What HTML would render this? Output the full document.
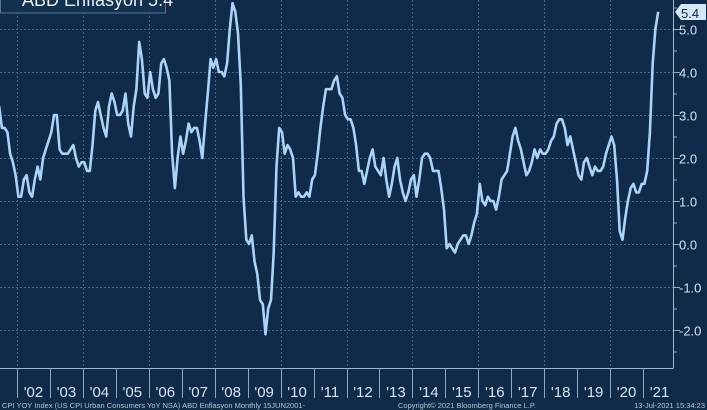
<!DOCTYPE html>
<html><head><meta charset="utf-8"><style>
html,body{margin:0;padding:0;background:#102a4a;}
body{width:707px;height:410px;overflow:hidden;position:relative;font-family:"Liberation Sans",sans-serif;}
svg{position:absolute;left:0;top:0;}
</style></head><body>
<svg width="707" height="410" xmlns="http://www.w3.org/2000/svg">
<rect width="707" height="410" fill="#102a4a"/>
<g id="grid" stroke="#4a6380" stroke-width="1" stroke-dasharray="2,2"></g>
<g id="ticks" stroke="#8fa6c0" stroke-width="1"></g>
<line x1="673.5" y1="0" x2="673.5" y2="368" stroke="#9fb6cf" stroke-width="1"/>
<line x1="0" y1="368.5" x2="673.5" y2="368.5" stroke="#9fb6cf" stroke-width="1"/>
<g id="ylab" fill="#d8e4f0" font-size="13" font-family="Liberation Sans, sans-serif"></g>
<g id="xlab" fill="#d8e4f0" font-size="15" font-family="Liberation Sans, sans-serif" text-anchor="middle"></g>
<polyline id="line" fill="none" stroke="#a9d3f7" stroke-width="2.6" stroke-linejoin="round"/>
<rect x="0.5" y="-12" width="165" height="25" fill="#12304f" stroke="#5a7390"/>
<text x="22" y="6" fill="#e8eef5" font-size="18">ABD Enflasyon 5.4</text>
<polygon points="675,12 681,4 706,4 706,20 681,20" fill="#d5e6f5"/>
<text x="681" y="18" fill="#102a4a" font-size="13">5.4</text>
<text x="2" y="408" fill="#b7c3d0" font-size="7.5">CPI YOY Index (US CPI Urban Consumers YoY NSA) ABD Enflasyon  Monthly 15JUN2001-</text>
<text x="398" y="408" fill="#b7c3d0" font-size="7.5">Copyright© 2021 Bloomberg Finance L.P.</text>
<text x="705" y="408" fill="#b7c3d0" font-size="7.5" text-anchor="end">13-Jul-2021 15:34:23</text>
</svg>
<script>
var d=[3.2,2.7,2.7,2.6,2.1,1.9,1.6,
1.1,1.1,1.5,1.6,1.2,1.1,1.5,1.8,1.5,2.0,2.2,2.4,
2.6,3.0,3.0,2.2,2.1,2.1,2.1,2.2,2.3,2.0,1.8,1.9,
1.9,1.7,1.7,2.3,3.1,3.3,3.0,2.7,2.5,3.2,3.5,3.3,
3.0,3.0,3.1,3.5,2.8,2.5,3.2,3.6,4.7,4.3,3.5,3.4,
4.0,3.6,3.4,3.5,4.2,4.3,4.1,3.8,2.1,1.3,2.0,2.5,
2.1,2.4,2.8,2.6,2.7,2.7,2.4,2.0,2.8,3.5,4.3,4.1,
4.3,4.0,4.0,3.9,4.2,5.0,5.6,5.4,4.9,3.7,1.1,0.1,
0.0,0.2,-0.4,-0.7,-1.3,-1.4,-2.1,-1.5,-1.3,-0.2,1.8,2.7,
2.6,2.1,2.3,2.2,2.0,1.1,1.2,1.1,1.1,1.2,1.1,1.5,
1.6,2.1,2.7,3.2,3.6,3.6,3.6,3.8,3.9,3.5,3.4,3.0,
2.9,2.9,2.7,2.3,1.7,1.7,1.4,1.7,2.0,2.2,1.8,1.7,
1.6,2.0,1.5,1.1,1.4,1.8,2.0,1.5,1.2,1.0,1.2,1.5,
1.6,1.1,1.5,2.0,2.1,2.1,2.0,1.7,1.7,1.7,1.3,0.8,
-0.1,0.0,-0.1,-0.2,0.0,0.1,0.2,0.2,0.0,0.2,0.5,0.7,
1.4,1.0,0.9,1.1,1.0,1.0,0.8,1.1,1.5,1.6,1.7,2.1,
2.5,2.7,2.4,2.2,1.9,1.6,1.7,1.9,2.2,2.0,2.2,2.1,
2.1,2.2,2.4,2.5,2.8,2.9,2.9,2.7,2.3,2.5,2.2,1.9,
1.6,1.5,1.9,2.0,1.8,1.6,1.8,1.7,1.7,1.8,2.1,2.3,
2.5,2.3,1.5,0.3,0.1,0.6,1.0,1.3,1.4,1.2,1.2,1.4,
1.4,1.7,2.6,4.2,5.0,5.4];
var X=function(t){return 17+(t-2002)*32.95;},Y=function(v){return 244-v*43;};
var pts=[];for(var i=0;i<d.length;i++){var t=2001+(5+i+0.5)/12;pts.push(X(t).toFixed(1)+","+Y(d[i]).toFixed(1));}
document.getElementById("line").setAttribute("points",pts.join(" "));
var ns="http://www.w3.org/2000/svg",g=document.getElementById("grid"),tk=document.getElementById("ticks"),yl=document.getElementById("ylab"),xl=document.getElementById("xlab");
function el(p,n,a,txt){var e=document.createElementNS(ns,n);for(var k in a)e.setAttribute(k,a[k]);if(txt)e.textContent=txt;p.appendChild(e);}
for(var v=-2;v<=5;v++){var y=Y(v)+0.5;el(g,"line",{x1:0,y1:y,x2:673,y2:y});el(tk,"line",{x1:673,y1:y,x2:680,y2:y});
el(yl,"text",{x:679,y:y+5},(v<0?"-":"")+Math.abs(v).toFixed(1));}
for(var v=-2.5;v<=5.5;v+=1){var y=Y(v)+0.5;el(tk,"line",{x1:673,y1:y,x2:677,y2:y});}
for(var yr=2002;yr<=2021;yr++){var x=Math.round(X(yr))+0.5;el(tk,"line",{x1:x,y1:368,x2:x,y2:398});
if(yr%2==0)el(g,"line",{x1:x,y1:0,x2:x,y2:368});
el(xl,"text",{x:X(yr+0.5),y:397},"'"+String(yr).slice(2));}
</script>
</body></html>
